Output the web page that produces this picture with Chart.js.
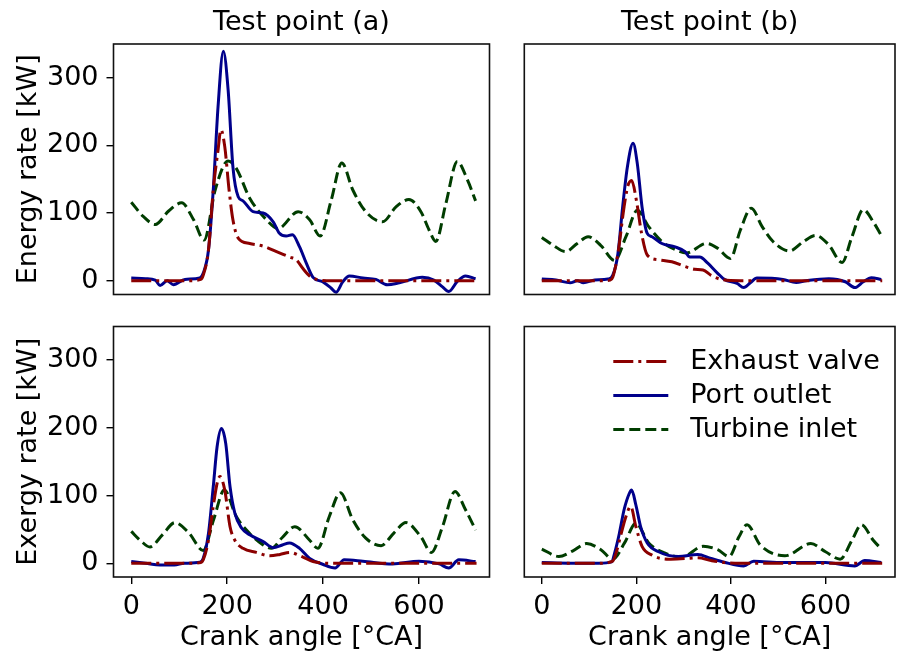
<!DOCTYPE html>
<html lang="en">
<head>
  <meta charset="UTF-8">
  <title>Energy and exergy rate</title>
  <script src="https://cdn.jsdelivr.net/npm/chart.js"></script>
  <style>
    html, body { margin: 0; padding: 0; background: #fff; }
    #wrap { position: relative; width: 897px; height: 654px; }
    #wrap canvas { position: absolute; left: 0; top: 0; }
  </style>
</head>
<body>
<div id="wrap">
  <canvas id="energyA" width="897" height="654"></canvas>
  <canvas id="energyB" width="897" height="654"></canvas>
  <canvas id="exergyA" width="897" height="654"></canvas>
  <canvas id="exergyB" width="897" height="654"></canvas>
</div>

<script>
  // tick labels
  const xTickValues = [0, 200, 400, 600];
  const yTickValues = [0, 100, 200, 300];
  const seriesNames = ['Exhaust valve', 'Port outlet', 'Turbine inlet'];

  // Energy rate, test point (a)
  const energyA_valve_ang = [0, 60, 120, 145, 150, 161, 171, 181, 187, 195, 204, 212, 223, 247, 275, 303, 330, 344, 358, 372, 393, 420, 480, 540, 600, 660, 720];
  const energyA_valve_val = [0, 0, 0, 2, 8, 45, 134, 193, 223, 198, 134, 90, 63, 55, 51, 43, 35, 31, 18, 7, 1, 0, 0, 0, 0, 0, 0];
  const energyA_port_ang = [0, 30, 50, 60, 75, 88, 112, 143, 150, 161, 171, 181, 192, 202, 212, 223, 233, 254, 275, 296, 309, 323, 336, 351, 365, 379, 399, 417, 427, 441, 455, 483, 510, 534, 559, 607, 631, 649, 662, 680, 697, 718];
  const energyA_port_val = [4, 3, 1, -7, 0, -6, 2, 4, 11, 45, 134, 257, 339, 282, 168, 124, 118, 102, 100, 87, 70, 66, 68, 50, 26, 5, -1.5, -11, -17, -1.5, 7, 4, 2, -6, -3, 5, 1, -9, -16, -1, 7, 3];
  const energyA_turb_ang = [0, 25, 50, 78, 105, 130, 152, 175, 202, 219, 247, 282, 306, 348, 372, 394, 417, 439, 462, 489, 524, 552, 579, 604, 621, 635, 656, 680, 701, 718];
  const energyA_turb_val = [116, 95, 83, 103, 115, 90, 60, 134, 177, 166, 122, 90, 77, 102, 90, 66, 119, 174, 134, 102, 87, 109, 120, 102, 75, 58, 114, 176, 149, 118];

  // Energy rate, test point (b)
  const energyB_valve_ang = [0, 60, 120, 145, 150, 161, 174, 182, 190, 200, 211, 223, 247, 275, 303, 323, 341, 358, 379, 420, 480, 540, 600, 660, 720];
  const energyB_valve_val = [0, 0, 0, 1, 5, 40, 109, 140, 148, 119, 70, 38, 31, 28, 21, 17, 16, 8, 2, 0, 0, 0, 0, 0, 0];
  const energyB_port_ang = [0, 30, 60, 75, 88, 112, 140, 150, 161, 171, 181, 193, 202, 212, 223, 233, 254, 282, 303, 313, 334, 351, 372, 386, 413, 427, 441, 455, 510, 538, 559, 607, 642, 662, 680, 697, 718];
  const energyB_port_val = [2.5, 1, -3, 0, -3, 1, 2.5, 8, 40, 109, 168, 203, 173, 109, 70, 65, 55, 50, 43, 35, 35, 26, 11, 2, -4, -10, -3, 4, 2, -2.5, 0, 3, -1.5, -10, -1.5, 4.4, 2];
  const energyB_turb_ang = [0, 25, 50, 75, 98, 125, 154, 178, 202, 226, 254, 282, 306, 348, 372, 399, 420, 443, 466, 489, 524, 552, 579, 607, 635, 656, 680, 701, 718];
  const energyB_turb_val = [64, 52, 43, 55, 65, 52, 30, 65, 104, 80, 58, 46, 41, 55, 48, 33, 75, 107, 80, 58, 44, 57, 67, 53, 27, 65, 105, 87, 67];

  // Exergy rate, test point (a)
  const exergyA_valve_ang = [0, 60, 120, 145, 150, 161, 171, 179, 185, 195, 206, 216, 233, 261, 289, 310, 330, 358, 379, 420, 480, 540, 600, 660, 720];
  const exergyA_valve_val = [0, 0, 0, 1, 5, 34, 84, 118, 128, 108, 54, 34, 22, 16, 11, 13, 16, 9, 2.5, 0, 0, 0, 0, 0, 0];
  const exergyA_port_ang = [0, 30, 60, 90, 110, 143, 150, 161, 171, 179, 188, 197, 206, 216, 230, 247, 275, 296, 315, 330, 351, 372, 399, 425, 444, 483, 545, 600, 642, 662, 683, 718];
  const exergyA_port_val = [2.5, 0, -2.5, -2.5, 0, 1.5, 7, 44, 113, 172, 199, 177, 113, 74, 52, 42, 32, 23, 27, 30, 22, 7, -1.5, -7, 5, 3, -1, 3, -1, -7, 5, 2.5];
  const exergyA_turb_ang = [0, 20, 39, 65, 91, 120, 150, 172, 194, 219, 247, 275, 292, 315, 341, 372, 389, 413, 436, 462, 489, 521, 548, 573, 604, 626, 649, 675, 697, 718];
  const exergyA_turb_val = [47, 33, 24, 42, 60, 45, 19, 65, 108, 69, 44, 27, 22, 38, 54, 34, 22, 69, 104, 64, 37, 26, 45, 60, 39, 16, 54, 106, 79, 49];

  // Exergy rate, test point (b)
  const exergyB_valve_ang = [0, 60, 120, 150, 157, 168, 178, 188, 199, 212, 233, 268, 303, 330, 358, 386, 420, 480, 540, 600, 660, 720];
  const exergyB_valve_val = [0, 0, 0, 3, 15, 44, 69, 84, 54, 25, 12, 6, 7, 8, 4, 1, 0, 0, 0, 0, 0, 0];
  const exergyB_port_ang = [0, 60, 120, 148, 154, 164, 174, 185, 190, 199, 209, 223, 247, 289, 330, 358, 386, 427, 448, 510, 600, 662, 683, 718];
  const exergyB_port_val = [1, 0, 0, 2, 15, 44, 79, 103, 108, 86, 54, 30, 17, 10, 13, 7, 1.5, -4, 3, 1, 1, -4, 4, 1];
  const exergyB_turb_ang = [0, 36, 65, 95, 125, 150, 175, 199, 226, 261, 296, 341, 372, 396, 417, 434, 462, 514, 569, 600, 631, 656, 676, 701, 718];
  const exergyB_turb_val = [21, 10, 18, 29, 20, 6, 30, 59, 30, 15, 9, 25, 20, 10, 39, 57, 27, 11, 29, 17, 6, 34, 57, 34, 21];

  Chart.defaults.font.family = "'DejaVu Sans', sans-serif";
  Chart.defaults.font.size = 27;
  Chart.defaults.color = '#000';

  const pts = (xs, ys) => xs.map((x, i) => ({ x: x, y: ys[i] }));

  // matplotlib-like box around the axes
  const framePlugin = {
    id: 'frame',
    afterDatasetsDraw(chart) {
      const a = chart.chartArea, c = chart.ctx;
      c.save();
      c.strokeStyle = '#111';
      c.lineWidth = 1.6;
      c.strokeRect(a.left, a.top, a.right - a.left, a.bottom - a.top);
      c.restore();
    }
  };

  // legend drawn inside the lower right axes, no box
  const innerLegend = {
    id: 'innerLegend',
    afterDraw(chart, args, opts) {
      if (!opts.show) return;
      const a = chart.chartArea, c = chart.ctx;
      c.save();
      chart.data.datasets.forEach((ds, i) => {
        const y = a.top + 35 + i * 34;
        c.strokeStyle = ds.borderColor;
        c.lineWidth = ds.borderWidth;
        c.setLineDash(ds.borderDash || []);
        c.beginPath();
        c.moveTo(a.left + 89, y);
        c.lineTo(a.left + 144, y);
        c.stroke();
        c.setLineDash([]);
        c.fillStyle = '#000';
        c.font = "27px 'DejaVu Sans'";
        c.textBaseline = 'middle';
        c.fillText(ds.label, a.left + 166, y);
      });
      c.restore();
    }
  };

  function makePanel(id, series, cfg) {
    const datasets = [
      { label: seriesNames[0], data: pts(series[0], series[1]), borderColor: '#8b0000', borderDash: [20, 5, 3, 5] },
      { label: seriesNames[1], data: pts(series[2], series[3]), borderColor: '#00008b', borderDash: [] },
      { label: seriesNames[2], data: pts(series[4], series[5]), borderColor: '#003d00', borderDash: [11, 5] }
    ].map(d => Object.assign(d, { borderWidth: 3, pointRadius: 0, fill: false, cubicInterpolationMode: 'monotone' }));

    return new Chart(document.getElementById(id), {
      type: 'line',
      data: { datasets: datasets },
      options: {
        responsive: false,
        animation: false,
        events: [],
        layout: { padding: cfg.padding, autoPadding: false },
        plugins: {
          legend: { display: false },
          tooltip: { enabled: false },
          title: {
            display: !!cfg.title,
            text: cfg.title,
            fullSize: false,
            font: { size: 27, weight: 'normal' },
            padding: { top: 7, bottom: 4.6 }
          },
          innerLegend: { show: !!cfg.legend }
        },
        scales: {
          x: {
            type: 'linear',
            min: -37, max: 747,
            display: cfg.showX,
            afterBuildTicks: s => { s.ticks = xTickValues.map(v => ({ value: v })); },
            afterFit: s => { if (s.options.display) s.height = 77; },
            grid: { drawOnChartArea: false, drawTicks: true, tickLength: 7, color: '#000', lineWidth: 1.4 },
            border: { display: false },
            ticks: { padding: 6.8, maxRotation: 0 },
            title: { display: true, text: 'Crank angle [°CA]', padding: { top: 0, bottom: 0.3 } }
          },
          y: {
            min: -20.3, max: 349.6,
            display: !!cfg.yTitle,
            afterBuildTicks: s => { s.ticks = yTickValues.map(v => ({ value: v })); },
            afterFit: s => { if (s.options.display) s.width = 113.5; },
            grid: { drawOnChartArea: false, drawTicks: true, tickLength: 7, color: '#000', lineWidth: 1.4 },
            border: { display: false },
            ticks: { padding: 8 },
            title: { display: !!cfg.yTitle, text: cfg.yTitle, padding: { top: 12.3, bottom: 0 } }
          }
        }
      },
      plugins: [framePlugin, innerLegend]
    });
  }

  makePanel('energyA',
    [energyA_valve_ang, energyA_valve_val, energyA_port_ang, energyA_port_val, energyA_turb_ang, energyA_turb_val],
    { padding: { left: 0, top: 0, right: 407.5, bottom: 359.5 }, title: 'Test point (a)', yTitle: 'Energy rate [kW]', showX: false });
  makePanel('energyB',
    [energyB_valve_ang, energyB_valve_val, energyB_port_ang, energyB_port_val, energyB_turb_ang, energyB_turb_val],
    { padding: { left: 524.3, top: 0, right: 2, bottom: 359.5 }, title: 'Test point (b)', showX: false });
  makePanel('exergyA',
    [exergyA_valve_ang, exergyA_valve_val, exergyA_port_ang, exergyA_port_val, exergyA_turb_ang, exergyA_turb_val],
    { padding: { left: 0, top: 326.5, right: 407.5, bottom: 0 }, yTitle: 'Exergy rate [kW]', showX: true });
  makePanel('exergyB',
    [exergyB_valve_ang, exergyB_valve_val, exergyB_port_ang, exergyB_port_val, exergyB_turb_ang, exergyB_turb_val],
    { padding: { left: 524.3, top: 326.5, right: 2, bottom: 0 }, showX: true, legend: true });
</script>
</body>
</html>
